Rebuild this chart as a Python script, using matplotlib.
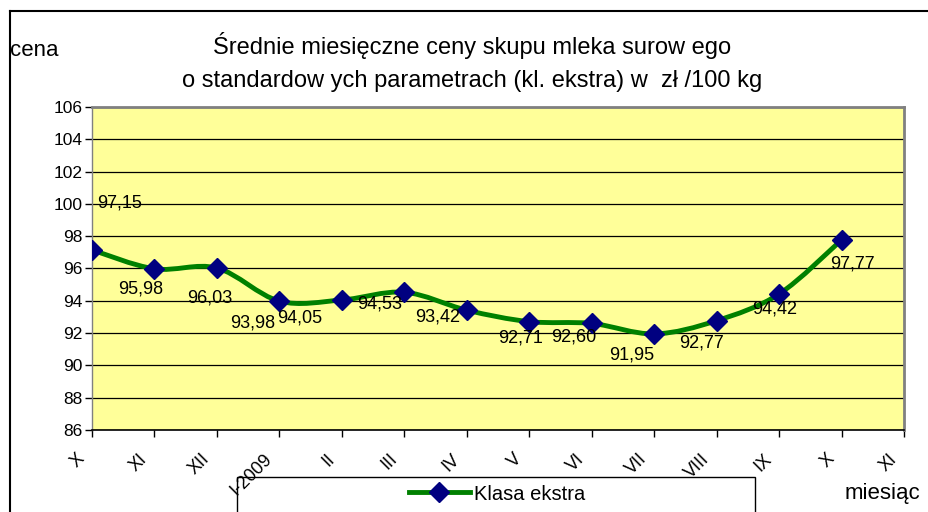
import matplotlib
matplotlib.use("Agg")
import matplotlib.pyplot as plt
from matplotlib.path import Path
from matplotlib.patches import PathPatch, Rectangle
from matplotlib.lines import Line2D
import matplotlib.transforms as mtransforms
import numpy as np

plt.rcParams['font.family'] = ['Liberation Sans', 'DejaVu Sans']

months = ["X", "XI", "XII", "I-2009", "II", "III", "IV", "V", "VI", "VII", "VIII", "IX", "X", "XI"]
prices = [97.15, 95.98, 96.03, 93.98, 94.05, 94.53, 93.42, 92.71, 92.60, 91.95, 92.77, 94.42, 97.77]
series_name = "Klasa ekstra"
title_text = "Średnie miesięczne ceny skupu mleka surow ego\no standardow ych parametrach (kl. ekstra) w  zł /100 kg"

# label offsets in pixels (dx, dy) - styling only
label_offsets = [(28, 47), (-14, -20), (-7, -30), (-27, -22), (-42, -18), (-25, -12),
                 (-29, -7), (-9, -16), (-18, -14), (-22, -21), (-15, -22), (-4, -15), (11, -24)]

line_color = "#008000"
marker_color = "#000080"

fig = plt.figure(figsize=(9.29, 5.12), dpi=100)
ax = fig.add_axes([92/929, 82/512, (904-92)/929, (430-107)/512])
ax.set_facecolor("#FFFF99")
ax.set_zorder(2)
ax.patch.set_zorder(0)

x = np.arange(len(prices), dtype=float)
y = np.array(prices, dtype=float)

# smoothed (Catmull-Rom style bezier) path through the data points
verts = [(x[0], y[0])]
codes = [Path.MOVETO]
n = len(x)
for i in range(n - 1):
    p0 = np.array([x[max(i-1, 0)], y[max(i-1, 0)]])
    p1 = np.array([x[i], y[i]])
    p2 = np.array([x[i+1], y[i+1]])
    p3 = np.array([x[min(i+2, n-1)], y[min(i+2, n-1)]])
    c1 = p1 + (p2 - p0) / 6.0
    c2 = p2 - (p3 - p1) / 6.0
    verts += [tuple(c1), tuple(c2), tuple(p2)]
    codes += [Path.CURVE4] * 3
ax.add_patch(PathPatch(Path(verts, codes), facecolor='none', edgecolor=line_color, lw=3.5, zorder=3))
ax.plot(x, y, linestyle='none', marker='D', markersize=10, color=marker_color, zorder=4)

for xi, yi, (dx, dy) in zip(x, y, label_offsets):
    ax.annotate(f"{yi:.2f}".replace('.', ','), (xi, yi), xytext=(dx, dy), textcoords='offset pixels',
                ha='center', va='center', fontsize=13, color='black', zorder=5)

ax.set_xlim(0, len(months) - 1)
ax.set_ylim(86, 106)
ax.set_yticks(np.arange(86, 107, 2))
ax.set_xticks(np.arange(len(months)))
ax.set_xticklabels(months, rotation=45, ha='right', va='center', rotation_mode='anchor', fontsize=13)
ax.tick_params(axis='x', direction='out', length=5, width=1, pad=12)
ax.tick_params(axis='y', direction='out', length=5, width=1, labelsize=12.5, pad=2)
shift = mtransforms.ScaledTranslation(-10/100, -3/100, fig.dpi_scale_trans)
for lab in ax.get_xticklabels():
    lab.set_transform(lab.get_transform() + shift)
ax.yaxis.grid(True, color='black', lw=0.9)
ax.set_axisbelow(True)
for s in ['top', 'right']:
    ax.spines[s].set_color('#808080')
    ax.spines[s].set_linewidth(2)
ax.spines['left'].set_color('#808080')
ax.spines['left'].set_linewidth(1)
ax.spines['bottom'].set_color('black')
ax.spines['bottom'].set_linewidth(1.2)

fig.text(472/929, 1 - 62/512, title_text, ha='center', va='center', fontsize=17, linespacing=1.65)
fig.text(10/929, 1 - 50/512, "cena", ha='left', va='center', fontsize=16)
fig.text(845/929, 1 - 493/512, "miesiąc", ha='left', va='center', fontsize=16)

# outer frame (left + top)
fig.add_artist(Line2D([10/929, 10/929], [0, 1 - 11/512], color='black', lw=1.5, transform=fig.transFigure))
fig.add_artist(Line2D([10/929, 1], [1 - 11/512, 1 - 11/512], color='black', lw=1.5, transform=fig.transFigure))

# legend box
fig.add_artist(Rectangle((237/929, -0.01), (755-237)/929, (512-477)/512 + 0.01, transform=fig.transFigure,
                         facecolor='white', edgecolor='black', lw=1, zorder=1))
handle = Line2D([], [], color=line_color, lw=3.5, marker='D', markersize=10,
                markerfacecolor=marker_color, markeredgecolor=marker_color)
leg = fig.legend([handle], [series_name], loc='center', bbox_to_anchor=(497/929, 1 - 494/512),
                 frameon=False, fontsize=14.5, handlelength=3.0, handletextpad=0.2)
leg.set_zorder(3)

fig.savefig("out.png", dpi=100)
